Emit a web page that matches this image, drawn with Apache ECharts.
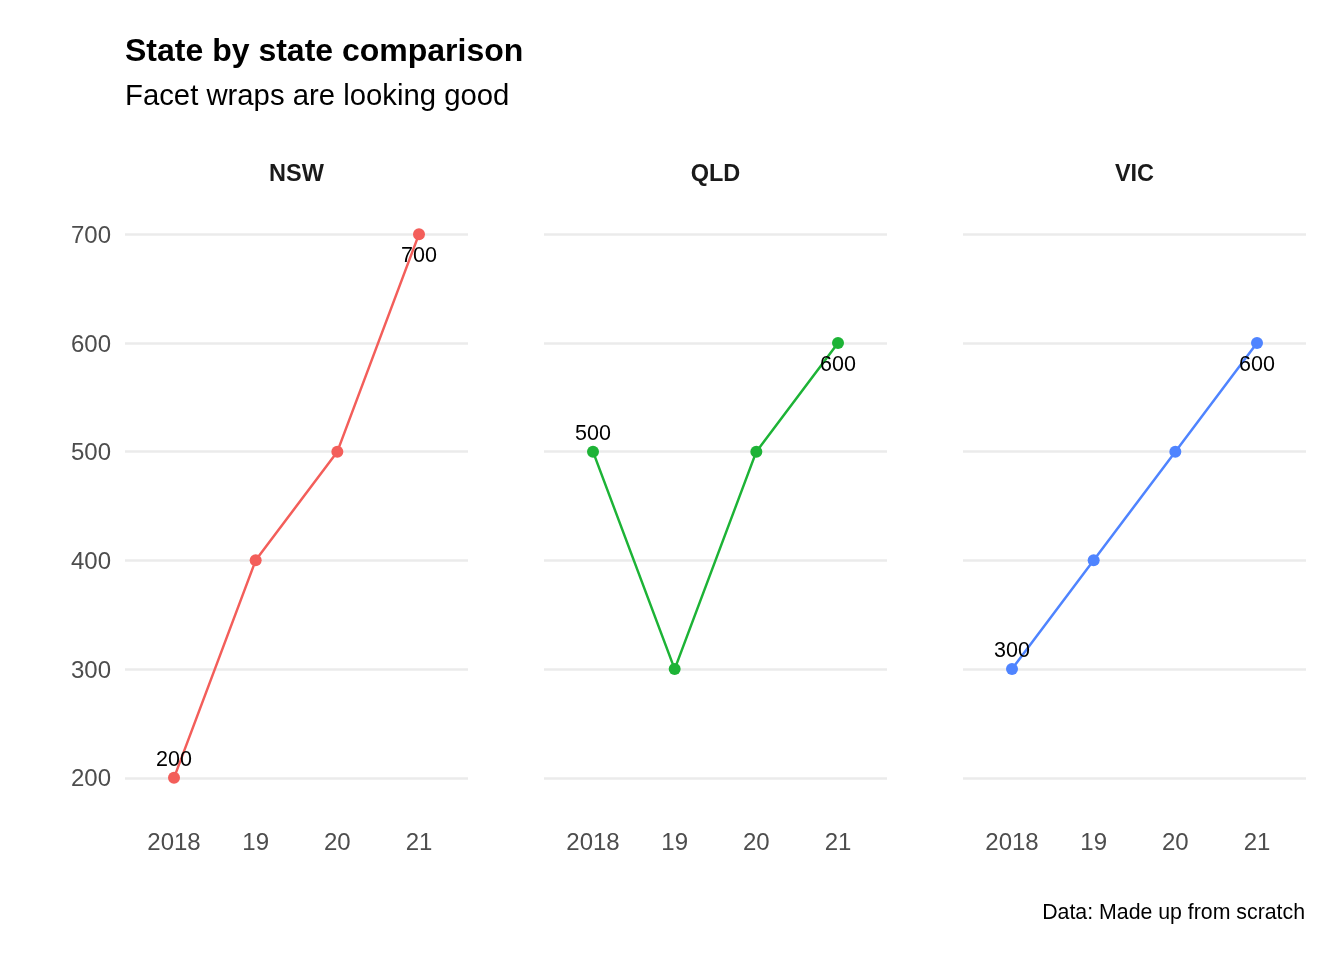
<!DOCTYPE html>
<html>
<head>
<meta charset="utf-8">
<script src="https://cdn.jsdelivr.net/npm/echarts@6/dist/echarts.min.js"></script>
<style>html,body{margin:0;padding:0;background:#fff}#c{width:1344px;height:960px}</style>
</head>
<body>
<div id="c"></div>
<script>
const states = ['NSW', 'QLD', 'VIC'];
const yearLabels = ['2018', '19', '20', '21'];
const nswValues = [200, 400, 500, 700];
const qldValues = [500, 300, 500, 600];
const vicValues = [300, 400, 500, 600];
const yTicks = [200, 300, 400, 500, 600, 700];
const colors = ['#F35E5A', '#1DB336', '#4F84FF'];

const FONT = "'Liberation Sans', Arial, Helvetica, sans-serif";
const seriesValues = [nswValues, qldValues, vicValues];
const panelLefts = [125, 544, 963];
const panelWidth = 343;
const panelTop = 207;
const panelHeight = 598;

const chart = echarts.init(document.getElementById('c'), null, {renderer: 'canvas'});

const grids = [], xAxes = [], yAxes = [], series = [], graphics = [];
states.forEach((s, i) => {
  grids.push({left: panelLefts[i], top: panelTop, width: panelWidth, height: panelHeight, containLabel: false});
  xAxes.push({
    type: 'value', gridIndex: i, min: -0.6, max: 3.6,
    axisLine: {show: false}, axisTick: {show: false, customValues: [0, 1, 2, 3]}, splitLine: {show: false},
    axisLabel: {customValues: [0, 1, 2, 3], formatter: v => yearLabels[Math.round(v)], color: '#4d4d4d',
      fontSize: 24, fontFamily: FONT, margin: 26}
  });
  yAxes.push({
    type: 'value', gridIndex: i, min: 175, max: 725,
    axisLine: {show: false}, axisTick: {show: false, customValues: yTicks},
    splitLine: {show: true, lineStyle: {color: '#EBEBEB', width: 2.5}},
    axisLabel: {show: i === 0, customValues: yTicks, margin: 14,
      formatter: v => '{t|' + v + '}',
      rich: {t: {color: '#4d4d4d', fontSize: 24, fontFamily: FONT, padding: [4, 0, 0, 0]}}}
  });
  const vals = seriesValues[i];
  series.push({
    type: 'line', xAxisIndex: i, yAxisIndex: i, name: s,
    data: vals.map((v, j) => {
      const item = {value: [j, v]};
      if (j === 0) item.label = {show: true, position: 'top', distance: 1};
      else if (j === vals.length - 1) item.label = {show: true, position: 'bottom', distance: 5};
      return item;
    }),
    symbol: 'circle', symbolSize: 12, showSymbol: true,
    lineStyle: {color: colors[i], width: 2.5},
    itemStyle: {color: colors[i]},
    label: {show: false, color: '#000', fontSize: 21.5, fontFamily: FONT, formatter: p => p.value[1]},
    emphasis: {disabled: true},
    animation: false, z: 3
  });
  graphics.push({type: 'text', x: panelLefts[i] + panelWidth / 2, y: 175,
    style: {text: s, font: 'bold 23.5px ' + FONT, fill: '#1a1a1a', textAlign: 'center', textVerticalAlign: 'middle'}});
});

graphics.push({type: 'text', x: 125, y: 52,
  style: {text: 'State by state comparison', font: 'bold 32px ' + FONT, fill: '#000', textAlign: 'left', textVerticalAlign: 'middle'}});
graphics.push({type: 'text', x: 125, y: 97,
  style: {text: 'Facet wraps are looking good', font: '29.3px ' + FONT, fill: '#000', textAlign: 'left', textVerticalAlign: 'middle'}});
graphics.push({type: 'text', x: 1305, y: 913,
  style: {text: 'Data: Made up from scratch', font: '21.3px ' + FONT, fill: '#000', textAlign: 'right', textVerticalAlign: 'middle'}});

chart.setOption({
  animation: false,
  grid: grids, xAxis: xAxes, yAxis: yAxes, series: series, graphic: graphics
});
</script>
</body>
</html>
